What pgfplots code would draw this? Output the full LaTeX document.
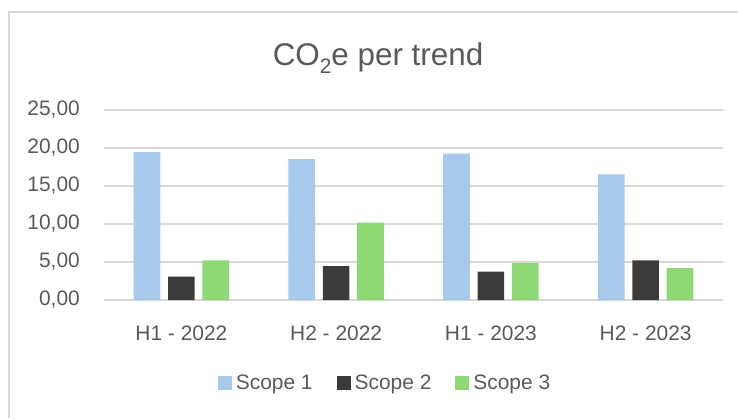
\documentclass[border=0pt]{standalone}
\usepackage{pgfplots}
\pgfplotsset{compat=1.18}
\usepackage{fontspec}
\setmainfont{Liberation Sans}
\definecolor{sone}{HTML}{A6C9EC}
\definecolor{stwo}{HTML}{3B3B3B}
\definecolor{sthree}{HTML}{8ED973}
\definecolor{txt}{HTML}{595959}
\definecolor{grd}{HTML}{D9D9D9}
\begin{document}
\begin{tikzpicture}[x=1bp,y=1bp]
\useasboundingbox (0,0) rectangle (738,-418);
\draw[grd, line width=1.2bp] (9,-418) -- (9,-12) -- (738,-12);
\node[anchor=base, text=txt, font=\fontsize{31.5}{36}\selectfont] at (378,-65) {CO\raisebox{-0.28em}{\fontsize{21}{21}\selectfont 2}e per trend};
\begin{axis}[
  at={(104bp,-300bp)}, anchor=south west,
  scale only axis, width=619bp, height=190bp,
  ybar=7.6bp, bar width=26.7bp,
  xmin=-0.5, xmax=3.5, ymin=0, ymax=25,
  ytick={0,5,...,25},
  xtick=data,
  xticklabels={H1 - 2022, H2 - 2022, H1 - 2023, H2 - 2023},
  axis x line*=bottom, axis y line*=left,
  x axis line style={grd, line width=1.2bp, -},
  y axis line style={draw=none},
  major x tick style={draw=none},
  ymajorgrids, major grid style={grd, line width=1.2bp},
  ytick style={draw=none},
  yticklabel={\pgfmathprintnumber[fixed, fixed zerofill, precision=2, use comma]{\tick}},
  /pgf/number format/assume math mode=true,
  ticklabel style={font=\fontsize{21}{25}\selectfont, text=txt},
  yticklabel style={anchor=east, inner sep=0pt, xshift=-24bp},
  xticklabel style={anchor=north, inner sep=0pt, yshift=-21.5bp},
  legend columns=3,
  legend style={at={(0.454,-0.437)}, anchor=center, draw=none, fill=none,
    font=\fontsize{21}{25}\selectfont, text=txt,
    /tikz/every even column/.append style={column sep=22bp},
    /tikz/every odd column/.append style={column sep=2bp},
    inner sep=0pt},
  legend image code/.code={\fill[#1] (0bp,-7bp) rectangle (14bp,7bp);},
  legend cell align=left,
]
\addplot[fill=sone, draw=none] coordinates {(0,19.47) (1,18.55) (2,19.25) (3,16.54)};
\addplot[fill=stwo, draw=none] coordinates {(0,3.07) (1,4.47) (2,3.73) (3,5.22)};
\addplot[fill=sthree, draw=none] coordinates {(0,5.22) (1,10.17) (2,4.87) (3,4.21)};
\legend{Scope 1, Scope 2, Scope 3}
\end{axis}
\end{tikzpicture}
\end{document}
